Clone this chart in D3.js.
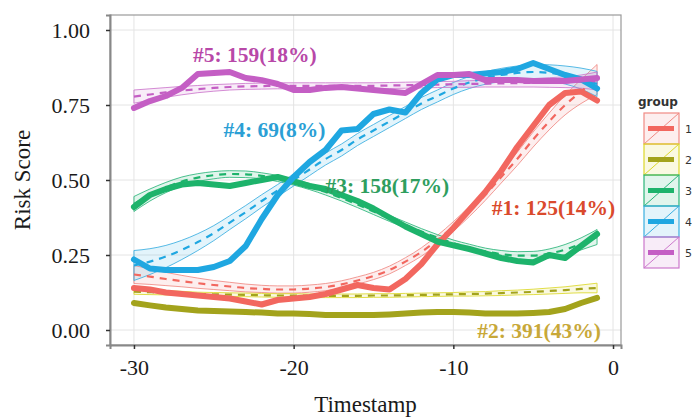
<!DOCTYPE html>
<html>
<head>
<meta charset="utf-8">
<script src="https://cdn.jsdelivr.net/npm/d3@7"></script>
<style>
  body { margin: 0; background: #fff; }
  text { font-family: "Liberation Serif", "Times New Roman", serif; }
</style>
</head>
<body>
<div id="chart"></div>
<script>
// timestamps -30 .. -1
const timestamps = d3.range(-30, 0);
const groups = ["1", "2", "3", "4", "5"];

// raw mean trajectories (thick lines)
const raw1 = [0.14, 0.135, 0.125, 0.12, 0.115, 0.11, 0.105, 0.095, 0.085, 0.10, 0.105, 0.11, 0.12, 0.135, 0.15, 0.14, 0.135, 0.17, 0.22, 0.285, 0.34, 0.40, 0.46, 0.53, 0.61, 0.68, 0.75, 0.79, 0.795, 0.765];
const raw2 = [0.09, 0.082, 0.075, 0.07, 0.065, 0.063, 0.062, 0.06, 0.058, 0.055, 0.055, 0.053, 0.05, 0.05, 0.05, 0.05, 0.052, 0.055, 0.058, 0.06, 0.06, 0.058, 0.055, 0.055, 0.055, 0.057, 0.06, 0.07, 0.09, 0.107];
const raw3 = [0.41, 0.45, 0.47, 0.485, 0.49, 0.485, 0.48, 0.49, 0.50, 0.51, 0.495, 0.48, 0.47, 0.45, 0.43, 0.405, 0.375, 0.345, 0.32, 0.295, 0.282, 0.27, 0.255, 0.24, 0.23, 0.225, 0.25, 0.24, 0.28, 0.32];
const raw4 = [0.235, 0.205, 0.2, 0.2, 0.2, 0.21, 0.23, 0.28, 0.37, 0.45, 0.51, 0.56, 0.6, 0.665, 0.67, 0.72, 0.735, 0.725, 0.79, 0.835, 0.85, 0.85, 0.855, 0.86, 0.87, 0.89, 0.87, 0.85, 0.835, 0.805];
const raw5 = [0.74, 0.763, 0.78, 0.807, 0.853, 0.857, 0.86, 0.84, 0.833, 0.82, 0.80, 0.80, 0.807, 0.81, 0.805, 0.80, 0.795, 0.79, 0.82, 0.85, 0.85, 0.853, 0.833, 0.833, 0.833, 0.83, 0.83, 0.83, 0.835, 0.84];

// fitted trajectories (dashed) and half-width of the confidence band
const fit1 = [0.185, 0.178, 0.17, 0.163, 0.156, 0.15, 0.145, 0.14, 0.137, 0.135, 0.135, 0.138, 0.143, 0.152, 0.165, 0.18, 0.2, 0.228, 0.26, 0.3, 0.345, 0.395, 0.45, 0.51, 0.57, 0.635, 0.695, 0.75, 0.795, 0.835];
const band1 = [0.03, 0.026, 0.022, 0.019, 0.017, 0.015, 0.014, 0.013, 0.012, 0.012, 0.012, 0.012, 0.012, 0.012, 0.012, 0.012, 0.013, 0.013, 0.014, 0.015, 0.016, 0.017, 0.018, 0.02, 0.022, 0.025, 0.028, 0.033, 0.04, 0.05];
const fit2 = [0.128, 0.126, 0.124, 0.122, 0.12, 0.119, 0.118, 0.117, 0.116, 0.115, 0.115, 0.114, 0.114, 0.114, 0.114, 0.115, 0.115, 0.116, 0.117, 0.118, 0.119, 0.12, 0.121, 0.123, 0.125, 0.127, 0.13, 0.133, 0.137, 0.14];
const band2 = [0.009, 0.008, 0.007, 0.007, 0.006, 0.006, 0.006, 0.006, 0.006, 0.006, 0.006, 0.006, 0.006, 0.006, 0.006, 0.006, 0.006, 0.006, 0.006, 0.006, 0.006, 0.007, 0.007, 0.008, 0.008, 0.009, 0.01, 0.011, 0.013, 0.016];
const fit3 = [0.42, 0.45, 0.475, 0.495, 0.508, 0.516, 0.52, 0.519, 0.514, 0.505, 0.493, 0.478, 0.46, 0.44, 0.418, 0.395, 0.372, 0.35, 0.328, 0.308, 0.29, 0.275, 0.262, 0.253, 0.248, 0.248, 0.255, 0.268, 0.287, 0.31];
const band3 = [0.025, 0.02, 0.017, 0.015, 0.013, 0.012, 0.011, 0.011, 0.01, 0.01, 0.01, 0.01, 0.01, 0.01, 0.01, 0.01, 0.01, 0.01, 0.01, 0.01, 0.01, 0.011, 0.011, 0.012, 0.013, 0.014, 0.015, 0.017, 0.02, 0.025];
const fit4 = [0.215, 0.228, 0.245, 0.267, 0.293, 0.323, 0.358, 0.393, 0.43, 0.465, 0.5, 0.535, 0.57, 0.6, 0.635, 0.665, 0.695, 0.725, 0.755, 0.78, 0.805, 0.825, 0.84, 0.85, 0.857, 0.86, 0.857, 0.85, 0.838, 0.82];
const band4 = [0.05, 0.043, 0.037, 0.032, 0.028, 0.025, 0.023, 0.022, 0.021, 0.02, 0.02, 0.02, 0.02, 0.02, 0.02, 0.02, 0.02, 0.02, 0.02, 0.02, 0.02, 0.02, 0.021, 0.022, 0.023, 0.025, 0.027, 0.03, 0.035, 0.042];
const fit5 = [0.778, 0.785, 0.792, 0.798, 0.803, 0.807, 0.81, 0.812, 0.813, 0.814, 0.814, 0.814, 0.814, 0.814, 0.814, 0.814, 0.815, 0.816, 0.817, 0.818, 0.819, 0.82, 0.821, 0.822, 0.823, 0.824, 0.825, 0.826, 0.828, 0.83];
const band5 = [0.022, 0.019, 0.016, 0.014, 0.012, 0.011, 0.01, 0.01, 0.01, 0.01, 0.01, 0.01, 0.01, 0.01, 0.01, 0.01, 0.01, 0.01, 0.01, 0.01, 0.01, 0.011, 0.011, 0.012, 0.013, 0.014, 0.016, 0.018, 0.022, 0.03];

const xTicks = [-30, -20, -10, 0];
const yTicks = [0, 0.25, 0.5, 0.75, 1];

const labelText = ["#1: 125(14%)", "#2: 391(43%)", "#3: 158(17%)", "#4: 69(8%)", "#5: 159(18%)"];
const labelAt = [[-7.6, 0.383], [-8.5, -0.027], [-18.0, 0.457], [-24.4, 0.643], [-26.3, 0.893]];

const lineColors = ["#f2675f", "#a3a31c", "#1db36b", "#1fa7e1", "#c45ec4"];
const bandColors = ["#f08a84", "#dcd82a", "#2bb57a", "#3aaee0", "#cc78cc"];
const textColors = ["#da4a2c", "#c8a838", "#2e9e5e", "#2b9fd5", "#b848a8"];

const raws = [raw1, raw2, raw3, raw4, raw5];
const fits = [fit1, fit2, fit3, fit4, fit5];
const bands = [band1, band2, band3, band4, band5];

const width = 692, height = 417;
const panel = {left: 110, right: 621, top: 15, bottom: 345};

const svg = d3.select("#chart")
    .append("svg")
    .attr("width", width)
    .attr("height", height);

const x = d3.scaleLinear().domain([-31.5, 0.5]).range([panel.left, panel.right]);
const y = d3.scaleLinear().domain([-0.05, 1.05]).range([panel.bottom, panel.top]);

// grid
svg.append("g")
    .selectAll("line.h")
    .data(yTicks)
    .join("line")
    .attr("x1", panel.left).attr("x2", panel.right)
    .attr("y1", d => y(d)).attr("y2", d => y(d))
    .attr("stroke", "#e4e4e4").attr("stroke-width", 1);
svg.append("g")
    .selectAll("line.v")
    .data(xTicks)
    .join("line")
    .attr("y1", panel.top).attr("y2", panel.bottom)
    .attr("x1", d => x(d)).attr("x2", d => x(d))
    .attr("stroke", "#e4e4e4").attr("stroke-width", 1);

const plot = svg.append("g");

const area = d3.area()
    .x((d, i) => x(timestamps[i]))
    .y0(d => y(d[0] - d[1]))
    .y1(d => y(d[0] + d[1]))
    .curve(d3.curveMonotoneX);

const lineOf = curve => d3.line()
    .x((d, i) => x(timestamps[i]))
    .y(d => y(d))
    .curve(curve);

// confidence bands
groups.forEach((g, k) => {
    const pts = fits[k].map((v, i) => [v, bands[k][i]]);
    plot.append("path")
        .attr("d", area(pts) + "Z")
        .attr("fill", bandColors[k])
        .attr("fill-opacity", 0.14)
        .attr("stroke", bandColors[k])
        .attr("stroke-opacity", 0.85)
        .attr("stroke-width", 1);
});

// fitted dashed lines
groups.forEach((g, k) => {
    plot.append("path")
        .attr("d", lineOf(d3.curveMonotoneX)(fits[k]))
        .attr("fill", "none")
        .attr("stroke", lineColors[k])
        .attr("stroke-width", 2.2)
        .attr("stroke-dasharray", "7,6");
});

// raw mean lines
groups.forEach((g, k) => {
    plot.append("path")
        .attr("d", lineOf(d3.curveLinear)(raws[k]))
        .attr("fill", "none")
        .attr("stroke", lineColors[k])
        .attr("stroke-width", 6)
        .attr("stroke-linejoin", "round")
        .attr("stroke-linecap", "round");
});

// labels
svg.append("g")
    .selectAll("text")
    .data(labelText)
    .join("text")
    .attr("x", (d, i) => x(labelAt[i][0]))
    .attr("y", (d, i) => y(labelAt[i][1]))
    .attr("fill", (d, i) => textColors[i])
    .style("font-size", "21.5px")
    .style("font-weight", "bold")
    .text(d => d);

// panel border
svg.append("rect")
    .attr("x", panel.left).attr("y", panel.top)
    .attr("width", panel.right - panel.left)
    .attr("height", panel.bottom - panel.top)
    .attr("fill", "none")
    .attr("stroke", "#9a9a9a")
    .attr("stroke-width", 1.2);

// axes
const yAxis = svg.append("g")
    .attr("transform", `translate(${panel.left},0)`)
    .call(d3.axisLeft(y).tickValues(yTicks).tickFormat(d3.format(".2f")).tickSize(4).tickPadding(16));
const xAxis = svg.append("g")
    .attr("transform", `translate(0,${panel.bottom})`)
    .call(d3.axisBottom(x).tickValues(xTicks).tickFormat(d => d < 0 ? "-" + Math.abs(d) : d).tickSize(4).tickPadding(10));
[yAxis, xAxis].forEach(ax => {
    ax.select(".domain").attr("stroke", "#888").attr("stroke-width", 2);
    ax.selectAll(".tick line").attr("stroke", "#333").attr("stroke-width", 1.5);
    ax.selectAll(".tick text")
        .attr("fill", "#1a1a1a")
        .style("font-family", "'Liberation Serif', serif")
        .style("font-size", "22px");
});

// axis titles
svg.append("text")
    .attr("transform", `translate(30,${(panel.top + panel.bottom) / 2}) rotate(-90)`)
    .attr("text-anchor", "middle")
    .attr("fill", "#1a1a1a")
    .style("font-size", "23px")
    .text("Risk Score");
svg.append("text")
    .attr("x", (panel.left + panel.right) / 2)
    .attr("y", 412)
    .attr("text-anchor", "middle")
    .attr("fill", "#1a1a1a")
    .style("font-size", "23px")
    .text("Timestamp");

// legend
const legend = svg.append("g").attr("transform", "translate(644,113)");
legend.append("text")
    .attr("x", -6).attr("y", -7)
    .style("font-family", "'DejaVu Sans', sans-serif")
    .style("font-size", "12px")
    .style("font-weight", "bold")
    .attr("fill", "#333")
    .text("group");
const keyW = 35, keyH = 31;
const keys = legend.selectAll("g.key")
    .data(groups)
    .join("g")
    .attr("transform", (d, i) => `translate(0,${i * keyH})`);
keys.append("rect")
    .attr("width", keyW).attr("height", keyH)
    .attr("fill", (d, i) => bandColors[i]).attr("fill-opacity", 0.14)
    .attr("stroke", (d, i) => bandColors[i]).attr("stroke-width", 1.2);
keys.append("line")
    .attr("x1", 0).attr("y1", keyH).attr("x2", keyW).attr("y2", 0)
    .attr("stroke", (d, i) => bandColors[i]).attr("stroke-width", 1);
keys.append("line")
    .attr("x1", 4).attr("x2", keyW - 5)
    .attr("y1", keyH / 2).attr("y2", keyH / 2)
    .attr("stroke", (d, i) => lineColors[i]).attr("stroke-width", 5);
keys.append("text")
    .attr("x", keyW + 6).attr("y", keyH / 2 + 4)
    .style("font-family", "'DejaVu Sans', sans-serif")
    .style("font-size", "11px")
    .attr("fill", "#333")
    .text(d => d);
</script>
</body>
</html>
